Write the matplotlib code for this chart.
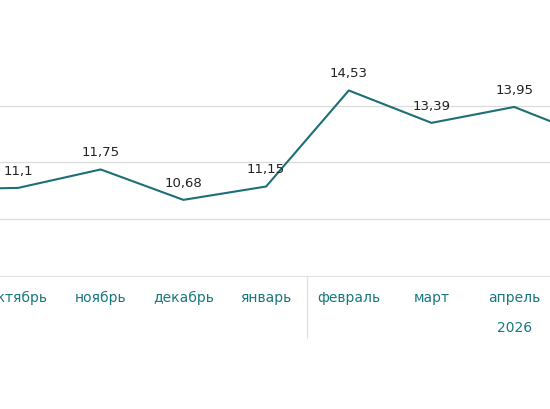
import matplotlib.pyplot as plt

months = ['сентябрь', 'октябрь', 'ноябрь', 'декабрь', 'январь', 'февраль', 'март', 'апрель', 'май']
values = [11.05, 11.1, 11.75, 10.68, 11.15, 14.53, 13.39, 13.95, 12.8]
labels = ['', '11,1', '11,75', '10,68', '11,15', '14,53', '13,39', '13,95', '']
grid_y = [10, 12, 14]

TEAL = '#1d6f75'
TICK = '#17787f'

fig = plt.figure(figsize=(5.5, 4.1), dpi=100)
ax = fig.add_axes([0, 133 / 410, 1, 277 / 410])
x = list(range(len(months)))
ax.plot(x, values, color=TEAL, lw=1.5, zorder=3)
for xi, v, lab in zip(x, values, labels):
    if lab:
        ax.annotate(lab, (xi, v), xytext=(0, 8), textcoords='offset points',
                    ha='center', va='bottom', fontsize=9.5, color='#222222')
for g in grid_y:
    ax.axhline(g, color='#dcdcdc', lw=0.9, zorder=1)
for s in ['top', 'left', 'right']:
    ax.spines[s].set_visible(False)
ax.spines['bottom'].set_color('#e2e2e2')
ax.set_yticks([])
ax.set_xticks(x)
ax.set_xticklabels(months, fontsize=10, color=TICK)
ax.tick_params(axis='x', length=0, pad=10)

# separator between years and year label
ax.plot([4.5, 4.5], [8, 8 - 61 / 28], color='#e2e2e2', lw=0.9, clip_on=False)
ax.text(7, 8 - 50 / 28, '2026', ha='center', va='center', fontsize=10, color=TICK)

# limits last so ticks don't expand them
ax.set_xlim(1 - 18 / 82.7, 1 + 532 / 82.7)
ax.set_ylim(8, 14 + 105 / 28)

fig.savefig('out.png', facecolor='white')
